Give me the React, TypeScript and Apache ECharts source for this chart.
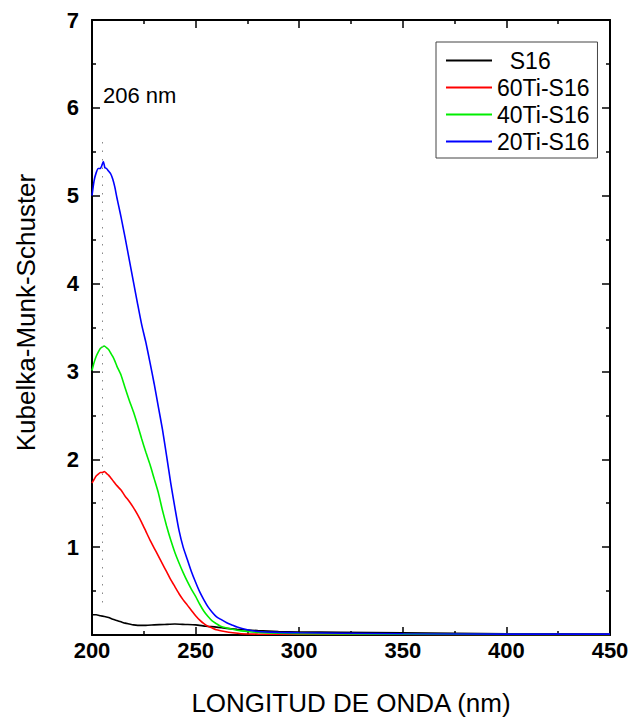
import React, { useEffect, useRef } from "react";
import * as echarts from "echarts";

const xTicks = { min: 200, max: 450, interval: 50 };
const yTicks = { min: 0, max: 7, interval: 1 };

const seriesNames = ["S16", "60Ti-S16", "40Ti-S16", "20Ti-S16"];
const seriesColors = ["#000000", "#ff0000", "#00ee00", "#0000ff"];

const s16Wl = [200, 202, 204, 206, 208, 210, 212, 214, 216, 218, 220, 222, 224, 226, 230, 235, 240, 245, 250, 255, 260, 265, 270, 280, 290, 300, 320, 350, 400, 450];
const s16Val = [0.23, 0.23, 0.22, 0.21, 0.2, 0.18, 0.165, 0.15, 0.135, 0.125, 0.115, 0.11, 0.11, 0.11, 0.115, 0.12, 0.125, 0.12, 0.115, 0.1, 0.09, 0.075, 0.065, 0.05, 0.04, 0.035, 0.03, 0.025, 0.015, 0.01];

const ti60Wl = [200, 201, 202, 203, 204, 205, 206, 207, 208, 209, 210, 211, 212, 214, 216, 218, 220, 222, 224, 226, 228, 230, 232, 234, 236, 238, 240, 242, 244, 246, 248, 250, 252, 254, 256, 258, 260, 264, 268, 272, 280, 300, 450];
const ti60Val = [1.73, 1.77, 1.81, 1.83, 1.85, 1.85, 1.86, 1.84, 1.82, 1.79, 1.76, 1.73, 1.7, 1.65, 1.58, 1.52, 1.45, 1.37, 1.28, 1.18, 1.08, 0.99, 0.9, 0.81, 0.72, 0.63, 0.55, 0.47, 0.4, 0.34, 0.28, 0.22, 0.17, 0.13, 0.1, 0.08, 0.06, 0.04, 0.025, 0.015, 0.01, 0.008, 0.005];

const ti40Wl = [200, 201, 202, 203, 204, 205, 206, 207, 208, 209, 210, 211, 212, 214, 216, 218, 220, 222, 224, 226, 228, 230, 232, 234, 236, 238, 240, 242, 244, 246, 248, 250, 252, 254, 256, 258, 260, 262, 265, 270, 275, 280, 290, 300, 350, 450];
const ti40Val = [3.01, 3.1, 3.17, 3.22, 3.26, 3.28, 3.29, 3.27, 3.25, 3.21, 3.17, 3.12, 3.06, 2.96, 2.81, 2.67, 2.54, 2.39, 2.23, 2.08, 1.94, 1.78, 1.62, 1.42, 1.24, 1.08, 0.94, 0.82, 0.71, 0.61, 0.52, 0.44, 0.35, 0.27, 0.21, 0.16, 0.13, 0.1, 0.08, 0.055, 0.04, 0.03, 0.02, 0.015, 0.01, 0.005];

const ti20Wl = [200, 201, 202, 203, 204, 204.7, 205.5, 206.2, 207, 208, 209, 210, 211, 212, 213, 214, 215, 216, 218, 220, 222, 224, 226, 228, 230, 232, 234, 236, 238, 240, 242, 244, 246, 248, 250, 252, 254, 256, 258, 260, 262, 265, 268, 270, 275, 280, 290, 300, 320, 350, 400, 450];
const ti20Val = [5.0, 5.17, 5.26, 5.31, 5.31, 5.34, 5.39, 5.32, 5.31, 5.28, 5.25, 5.19, 5.1, 4.98, 4.87, 4.76, 4.64, 4.52, 4.27, 4.02, 3.77, 3.53, 3.33, 3.1, 2.86, 2.6, 2.34, 2.04, 1.73, 1.45, 1.19, 1.0, 0.86, 0.72, 0.6, 0.49, 0.4, 0.32, 0.26, 0.21, 0.18, 0.14, 0.11, 0.09, 0.06, 0.04, 0.03, 0.025, 0.02, 0.015, 0.01, 0.01];

const peakWl = 205;
const peakLineRange = [0.37, 5.67];
const peakLabel = "206 nm";

const xName = "LONGITUD DE ONDA (nm)";
const yName = "Kubelka-Munk-Schuster";

const FONT = "'Liberation Sans', Arial, Helvetica, sans-serif";

function zip(xs: number[], ys: number[]) {
  return xs.map((x, i) => [x, ys[i]]);
}

export default function App() {
  const ref = useRef<HTMLDivElement>(null);

  useEffect(() => {
    if (!ref.current) return;
    const chart = echarts.init(ref.current, null, { renderer: "svg" });
    const wls = [s16Wl, ti60Wl, ti40Wl, ti20Wl];
    const vals = [s16Val, ti60Val, ti40Val, ti20Val];

    const axisCommon = {
      axisLine: { show: true, onZero: false, lineStyle: { color: "#000", width: 2 } },
      axisTick: { show: true, inside: true, length: 8, lineStyle: { color: "#000", width: 1.5 } },
      minorTick: { show: true, splitNumber: 2, length: 4, lineStyle: { color: "#000", width: 1.5 } },
      splitLine: { show: false },
    };

    const series: any[] = seriesNames.map((name, i) => ({
      name,
      type: "line",
      data: zip(wls[i], vals[i]),
      symbol: "none",
      showSymbol: false,
      smooth: 0.2,
      lineStyle: { color: seriesColors[i], width: 1.6 },
      itemStyle: { color: seriesColors[i] },
      z: 2 + i,
    }));

    series[3].markLine = {
      silent: true,
      symbol: "none",
      label: { show: false },
      lineStyle: { color: "#888", width: 1, type: [1.5, 7] },
      data: [[{ coord: [peakWl, peakLineRange[0]] }, { coord: [peakWl, peakLineRange[1]] }]],
    };

    chart.setOption({
      animation: false,
      backgroundColor: "#fff",
      textStyle: { fontFamily: FONT },
      grid: { left: 92, right: 23, top: 20, bottom: 85, containLabel: false },
      legend: {
        data: seriesNames.map((n) => ({ name: n, icon: "rect" })),
        orient: "vertical",
        left: 436,
        top: 42,
        itemWidth: 46,
        itemHeight: 2,
        itemGap: 4,
        itemTextGap: 6,
        padding: [7, 8, 5, 10],
        borderColor: "#444",
        borderWidth: 1,
        formatter: (n: string) => (n === "S16" ? "  S16" : n),
        textStyle: { fontFamily: FONT, fontSize: 23, color: "#000", lineHeight: 22 },
      },
      graphic: [
        {
          type: "text",
          left: 103,
          top: 84,
          style: { text: peakLabel, fontFamily: FONT, fontSize: 22, fill: "#000" },
        },
      ],
      xAxis: [
        {
          type: "value",
          position: "bottom",
          min: xTicks.min,
          max: xTicks.max,
          interval: xTicks.interval,
          name: xName,
          nameLocation: "middle",
          nameGap: 55,
          nameTextStyle: { fontFamily: FONT, fontSize: 26, color: "#000" },
          axisLabel: { fontFamily: FONT, fontSize: 22, fontWeight: "bold", color: "#000", margin: 4 },
          ...axisCommon,
        },
        {
          type: "value",
          position: "top",
          min: xTicks.min,
          max: xTicks.max,
          interval: xTicks.interval,
          axisLabel: { show: false },
          ...axisCommon,
        },
      ],
      yAxis: [
        {
          type: "value",
          position: "left",
          min: yTicks.min,
          max: yTicks.max,
          interval: yTicks.interval,
          name: yName,
          nameLocation: "middle",
          nameGap: 53,
          nameTextStyle: { fontFamily: FONT, fontSize: 26, color: "#000", padding: [0, 0, 0, 30] },
          axisLabel: {
            fontFamily: FONT,
            fontSize: 22,
            fontWeight: "bold",
            color: "#000",
            margin: 13,
            formatter: (v: number) => (v === 0 ? "" : String(v)),
          },
          ...axisCommon,
        },
        {
          type: "value",
          position: "right",
          min: yTicks.min,
          max: yTicks.max,
          interval: yTicks.interval,
          axisLabel: { show: false },
          ...axisCommon,
        },
      ],
      series,
    });

    return () => chart.dispose();
  }, []);

  return <div ref={ref} style={{ position: "absolute", left: 0, top: 0, width: 633, height: 721 }} />;
}
